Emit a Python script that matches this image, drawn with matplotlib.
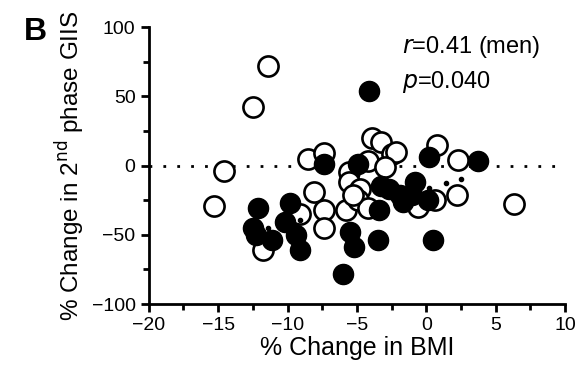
import matplotlib
matplotlib.use('Agg')
import matplotlib.pyplot as plt
from matplotlib.ticker import MultipleLocator

plt.rcParams['font.family'] = ['Liberation Sans', 'DejaVu Sans']

# open circles (one group) - % change in BMI vs % change in GIIS
open_x = [-11.4, -12.5, -14.6, -15.3, -11.8, -8.5, -7.4, -8.1, -9.1, -7.4,
          -7.4, -5.8, -5.6, -5.6, -4.8, -4.9, -4.2, -4.2, -3.9, -3.3,
          -2.5, -2.2, -3.0, -0.6, 0.6, 0.8, 2.3, 2.2, 6.3, -5.3]
open_y = [72, 42, -4, -29, -61, 5, 9, -19, -35, -32,
          -45, -32, -5, -12, -17, -25, -31, 3, 20, 17,
          8, 10, -1, -30, -25, 15, 4, -21, -28, -21]

# filled circles (men)
men_x = [-4.1, -7.4, -4.9, 0.2, 3.7, -12.1, -12.5, -11.1, -12.3, -9.8,
         -10.2, -9.4, -9.1, -5.5, -5.2, -6.0, -3.5, -3.4, -3.3, -2.7,
         -1.7, -1.9, -0.8, -1.0, 0.1, 0.5]
men_y = [54, 1, 1, 6, 3, -31, -45, -54, -50, -27,
         -41, -50, -61, -48, -59, -78, -54, -32, -15, -17,
         -26, -21, -12, -21, -25, -54]

# small leftover dots
dot_x = [-11.4, -9.1, 1.4, 2.5, 0.2]
dot_y = [-45, -39, -12.5, -10, -16]

fig = plt.figure(figsize=(5.88, 3.81), dpi=100)
ax = fig.add_axes([0.253, 0.202, 0.708, 0.727])

ax.plot([-20, 10], [0, 0], linestyle=(0, (1, 4)), color='black', linewidth=2, zorder=1)

ax.plot(open_x, open_y, 'o', markersize=14.5, markerfacecolor='white',
        markeredgecolor='black', markeredgewidth=1.9, linestyle='none', zorder=2)
ax.plot(men_x, men_y, 'o', markersize=14.5, markerfacecolor='black',
        markeredgecolor='black', linestyle='none', zorder=3)
ax.plot(dot_x, dot_y, 'o', markersize=3, color='black', linestyle='none', zorder=4)

ax.set_xlim(-20, 10)
ax.set_ylim(-100, 100)
ax.xaxis.set_major_locator(MultipleLocator(5))
ax.xaxis.set_minor_locator(MultipleLocator(2.5))
ax.yaxis.set_major_locator(MultipleLocator(50))
ax.yaxis.set_minor_locator(MultipleLocator(25))

for s in ['top', 'right']:
    ax.spines[s].set_visible(False)
for s in ['left', 'bottom']:
    ax.spines[s].set_linewidth(2)

ax.tick_params(which='major', direction='out', length=6, width=2, labelsize=14)
ax.tick_params(which='minor', direction='out', length=4, width=2)

ax.set_xlabel('% Change in BMI', fontsize=18, labelpad=1)
ax.set_ylabel('% Change in 2$^{\\mathrm{nd}}$ phase GIIS', fontsize=17.5, labelpad=3)

ax.text(0.608, 0.928, '$\\it{r}$=0.41 (men)', transform=ax.transAxes, fontsize=17, va='center')
ax.text(0.608, 0.80, '$\\it{p}$=0.040', transform=ax.transAxes, fontsize=17, va='center')

fig.text(0.04, 0.915, 'B', fontsize=23, fontweight='bold', va='center')

fig.savefig('out.png', dpi=100)
